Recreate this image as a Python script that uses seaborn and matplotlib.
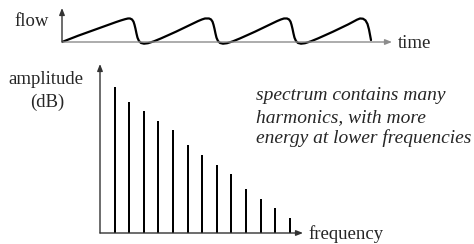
import numpy as np
import pandas as pd
import matplotlib
matplotlib.use("Agg")
import matplotlib.pyplot as plt
import seaborn as sns

# --- data --------------------------------------------------------------
# glottal flow waveform (time in arbitrary units, flow normalised to peak)
flow_time = [
    0, 8, 16, 24, 32, 40, 48, 54, 59, 63, 66, 68, 70, 71.5, 72.5, 73.5, 74.5, 75.5, 77,
    79, 82, 86, 92, 99, 106, 114, 122, 130, 136, 140, 143, 147, 149, 150.5, 151.5,
    152.5, 153.5, 154.5, 156,
    158, 161, 165, 171, 178, 185, 193, 201, 209, 215, 219, 222, 225, 227, 228.5,
    229.5, 230.5, 231.5, 232.5, 234,
    236, 239, 243, 249, 256, 263, 271, 279, 286, 291, 295, 298, 301, 303.5, 305.5,
    307, 308, 309,
]
flow_value = [
    0, 0.13, 0.26, 0.38, 0.50, 0.62, 0.74, 0.83, 0.90, 0.95, 0.98, 0.98, 0.94, 0.85,
    0.72, 0.55, 0.35, 0.18, 0.04,
    -0.04, -0.07, -0.05, 0.03, 0.15, 0.28, 0.43, 0.59, 0.75, 0.87, 0.94, 0.98, 0.98,
    0.94, 0.85, 0.72, 0.55, 0.35, 0.18, 0.04,
    -0.04, -0.07, -0.05, 0.03, 0.15, 0.28, 0.43, 0.59, 0.75, 0.87, 0.94, 0.98, 0.98,
    0.94, 0.85, 0.72, 0.55, 0.35, 0.18, 0.04,
    -0.04, -0.07, -0.05, 0.03, 0.15, 0.28, 0.43, 0.59, 0.73, 0.84, 0.93, 0.98, 0.97,
    0.90, 0.75, 0.52, 0.30, 0.08,
]

# harmonic spectrum (harmonic number vs amplitude, arbitrary dB units)
harmonic = list(range(1, 14))
amplitude_db = [146, 131, 122, 112, 103, 88, 78, 68, 59, 44, 34, 25, 15]

note_lines = [
    "spectrum contains many",
    "harmonics, with more",
    "energy at lower frequencies",
]

W, H = 474, 244
FS = 13.5
FS_NOTE = 14


def px_axes(fig, left, top, right, bottom):
    return fig.add_axes([left / W, 1 - bottom / H, (right - left) / W, (bottom - top) / H])


def px_text(fig, x, y, s, **kw):
    fig.text(x / W, 1 - y / H, s, **kw)


def arrow(ax, start, end, color):
    ax.annotate("", xy=end, xytext=start, xycoords="data", annotation_clip=False,
                arrowprops=dict(arrowstyle="-|>,head_length=0.4,head_width=0.16",
                                color=color, lw=1.0, shrinkA=0, shrinkB=0))


sns.set_style("white")
plt.rcParams["font.family"] = ["Liberation Serif", "DejaVu Serif"]

fig = plt.figure(figsize=(W / 100, H / 100), dpi=100)

# --- top panel: flow vs time ------------------------------------------
ax1 = px_axes(fig, 62, 8, 392, 46)
flow_df = pd.DataFrame({"time": flow_time, "flow": flow_value})
sns.lineplot(data=flow_df, x="time", y="flow", sort=False, estimator=None,
             color="black", lw=1.6, ax=ax1)
ax1.set_xlim(0, 330)
ax1.set_ylim((42 - 46) / 24, (42 - 8) / 24)
ax1.axis("off")
arrow(ax1, (0, 0), (330, 0), "#8c8c8c")
arrow(ax1, (0, 0), (0, (42 - 8) / 24), "#333333")

px_text(fig, 49, 26, "flow", ha="right", va="baseline", fontsize=FS)
px_text(fig, 398, 48, "time", ha="left", va="baseline", fontsize=FS)

# --- bottom panel: spectrum ---------------------------------------------
x_right = (303 - 100) / 14.6
ax2 = px_axes(fig, 100, 64, 303, 234)
spec_df = pd.DataFrame({"harmonic": harmonic, "amplitude": amplitude_db})
sns.barplot(data=spec_df, x="harmonic", y="amplitude", native_scale=True,
            width=0.14, color="black", linewidth=0, errorbar=None, ax=ax2)
ax2.set_xlim(0, x_right)
ax2.set_ylim(-1, 169)
ax2.axis("off")
arrow(ax2, (0, 0), (x_right, 0), "#333333")
arrow(ax2, (0, 0), (0, 169), "#333333")

px_text(fig, 46, 84, "amplitude", ha="center", va="baseline", fontsize=FS)
px_text(fig, 47, 107, "(dB)", ha="center", va="baseline", fontsize=FS)
px_text(fig, 308, 239, "frequency", ha="left", va="baseline", fontsize=FS)

for i, line in enumerate(note_lines):
    px_text(fig, 256, 100 + 21.7 * i, line, ha="left", va="baseline",
            fontsize=FS_NOTE, style="italic")

fig.savefig("out.png", dpi=100)
